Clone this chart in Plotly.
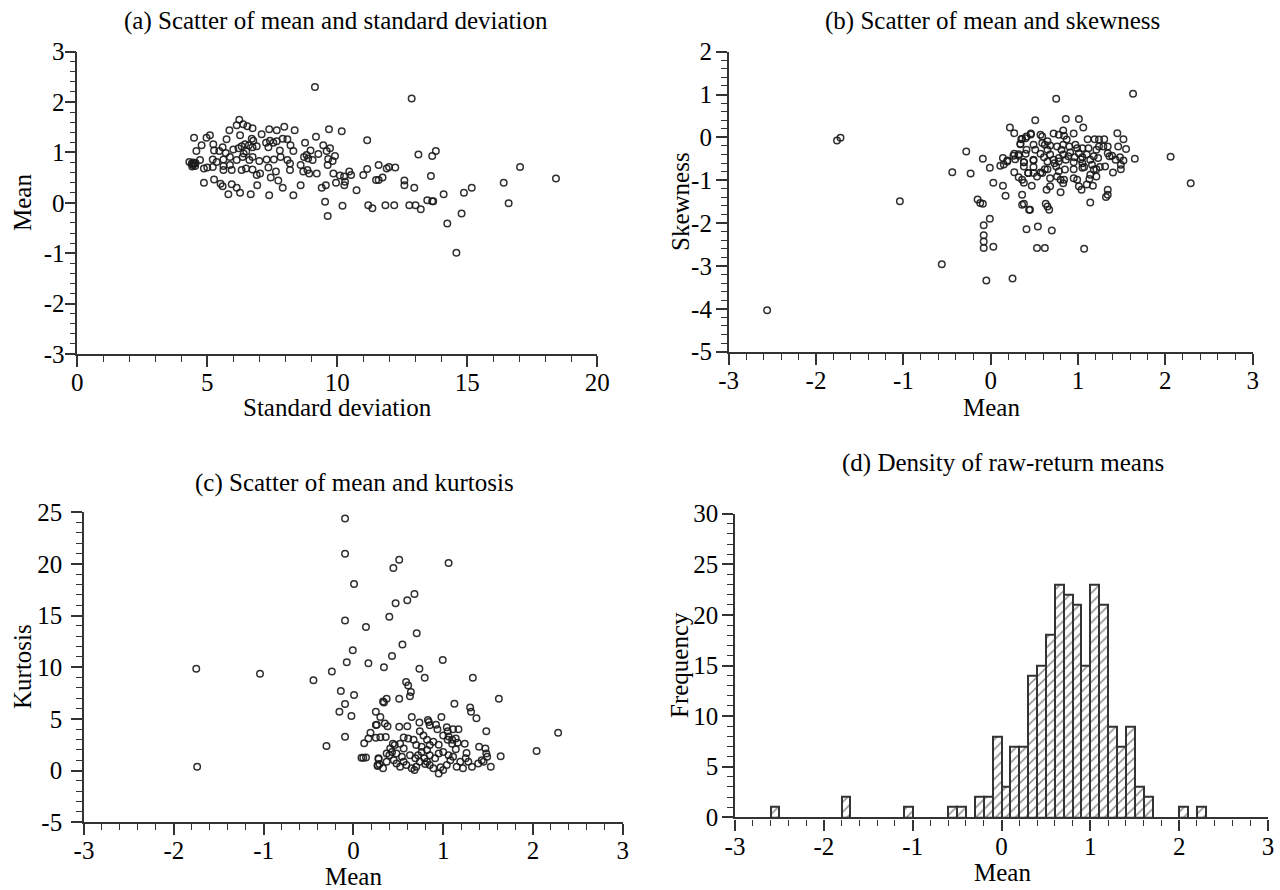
import plotly.graph_objects as go

# ---------------- data ----------------
# Panel (a): standard deviation vs mean
A_SD = [9.14, 6.23, 6.13, 6.38, 6.54, 6.74, 5.85, 7.38, 7.67, 7.96, 8.36, 9.68, 10.17,
        4.49, 4.97, 5.10, 5.74, 7.09, 6.26, 6.71, 6.77, 7.41, 7.90, 8.08, 9.18,
        4.78, 5.23, 5.26, 5.59, 5.46, 5.71, 6.00, 6.32, 6.45, 6.74, 6.90, 7.26, 7.35, 7.54,
        7.67, 7.79, 8.20, 8.31, 8.76, 8.82, 8.97, 9.46, 9.72, 9.59, 9.91, 4.58,
        4.31, 4.44, 4.53, 4.72, 4.87, 5.00, 5.21, 5.21, 5.36, 5.62, 5.62, 5.87, 5.87, 6.13,
        6.36, 6.62, 6.74, 7.00, 7.28, 7.56, 7.82, 8.08, 8.18, 8.59, 8.72, 8.88, 9.05, 9.27,
        9.65, 9.63, 9.82,
        5.62, 5.94, 6.32, 6.49, 6.74, 6.90, 7.03, 7.35, 7.64, 8.18, 8.69, 8.85, 8.92, 9.21,
        9.85, 10.10, 10.26, 10.46, 10.53,
        4.87, 5.26, 5.51, 5.59, 5.94, 6.13, 6.26, 5.81, 6.67, 6.92, 7.38, 7.44, 7.73, 7.90,
        8.31, 8.59, 9.40, 9.56, 9.95, 10.27, 10.30, 10.74, 9.53, 10.20, 9.63,
        4.40, 4.46, 4.50, 4.55, 4.42, 6.20, 6.50, 6.40, 6.60,
        12.86, 11.15, 13.12, 13.65, 13.79, 11.59, 11.90, 11.99, 12.23, 11.15, 11.00, 11.49,
        11.59, 11.74, 12.58, 12.58, 12.96, 13.60, 14.09, 14.87, 15.17, 16.40, 17.03, 18.41,
        16.59, 11.19, 11.35, 11.85, 12.19, 12.77, 13.01, 13.21, 13.46, 13.65, 13.69, 14.23,
        14.78, 14.58]
A_MEAN = [2.30, 1.65, 1.54, 1.56, 1.52, 1.48, 1.44, 1.46, 1.44, 1.51, 1.44, 1.46, 1.42,
          1.29, 1.29, 1.34, 1.26, 1.36, 1.34, 1.27, 1.23, 1.23, 1.27, 1.26, 1.31,
          1.14, 1.16, 1.04, 1.10, 1.03, 0.99, 1.06, 1.12, 1.16, 1.10, 1.12, 1.19, 1.10, 1.19,
          1.22, 1.04, 1.14, 1.03, 1.19, 0.95, 1.04, 1.14, 1.08, 1.03, 0.93, 1.03,
          0.81, 0.75, 0.73, 0.85, 0.68, 0.70, 0.86, 0.71, 0.81, 0.86, 0.73, 0.91, 0.75, 0.85,
          0.91, 0.85, 0.91, 0.83, 0.86, 0.86, 0.91, 0.85, 0.78, 0.75, 0.91, 0.88, 0.85, 0.97,
          0.87, 0.75, 0.83,
          0.65, 0.65, 0.65, 0.68, 0.66, 0.55, 0.58, 0.70, 0.62, 0.65, 0.62, 0.65, 0.58, 0.58,
          0.58, 0.54, 0.52, 0.62, 0.55,
          0.40, 0.46, 0.38, 0.33, 0.37, 0.30, 0.20, 0.17, 0.17, 0.35, 0.15, 0.50, 0.44, 0.30,
          0.15, 0.35, 0.30, 0.35, 0.40, 0.35, 0.42, 0.25, 0.02, -0.06, -0.26,
          0.78, 0.80, 0.77, 0.79, 0.72, 1.08, 1.02, 0.98, 1.14,
          2.07, 1.24, 0.96, 0.93, 1.03, 0.75, 0.68, 0.71, 0.70, 0.67, 0.55, 0.45,
          0.45, 0.50, 0.44, 0.35, 0.30, 0.53, 0.17, 0.20, 0.30, 0.40, 0.71, 0.48,
          -0.01, -0.05, -0.11, -0.05, -0.05, -0.05, -0.05, -0.13, 0.05, 0.03, 0.03, -0.41,
          -0.21, -0.99]

# Panel (b): mean vs skewness
B_MEAN = [-1.76, -1.72, -2.56, -1.04, -0.56, -0.44, -0.28, -0.23, -0.09, -0.15, -0.12, -0.09,
          -0.01, -0.08, -0.08, -0.08, -0.08, 0.03, -0.05, 0.25, -0.01, 0.03, 0.11, 0.15,
          0.19, 0.14, 0.17, 0.27, 0.26, 0.28, 0.32, 0.34, 0.36, 0.27, 0.32, 0.36, 0.38, 0.36,
          0.38, 0.36, 0.44, 0.41, 0.53, 0.47, 0.38, 0.38, 0.43, 0.49, 0.49, 0.51, 0.41, 0.46, 0.54,
          1.63, 0.75, 0.51, 0.86, 1.01, 1.06, 0.22, 0.35, 0.40, 0.46, 0.57, 0.59, 0.65, 0.72,
          0.78, 0.83, 0.84, 0.87, 0.95, 1.11, 1.19, 1.24, 1.30, 1.45, 1.52, 1.55, 1.46, 1.34,
          1.65, 2.06, 2.29,
          0.62, 0.65, 0.68, 0.72, 0.73, 0.75, 0.78, 0.81, 0.83, 0.86, 0.90, 0.91, 0.95, 0.96,
          0.99, 1.01, 1.03, 1.05, 1.07, 1.10, 1.12, 1.14, 1.16, 1.18, 1.14, 1.21, 1.23, 1.25,
          1.24, 1.34, 1.36, 1.40, 1.43, 1.48, 1.49, 1.49, 1.34, 1.34, 1.32, 1.14, 1.01, 1.04,
          1.10, 1.17, 0.95, 0.83, 0.80, 0.65, 0.63, 0.67, 0.64, 0.68, 0.76, 0.84, 0.45, 0.62,
          0.65, 0.59, 0.68, 0.78,
          0.34, 0.41, 0.49, 0.59, 0.68, 0.76, 0.83, 0.97, 1.05, 1.29, 0.14, 0.19, 0.27, 0.32,
          0.40, 0.49, 0.57, 0.61, 0.89, 1.05, 1.18, 1.39, 1.52, 0.38, 0.49, 0.57, 0.65, 0.78,
          0.85, 0.95, 1.05, 1.21, 1.31, 0.43, 0.53, 0.80, 0.99, 1.13, 1.21,
          0.70, 0.62, 1.07]
B_SKEW = [-0.07, -0.01, -4.03, -1.49, -2.96, -0.81, -0.33, -0.84, -0.50, -1.45, -1.53, -1.55,
          -1.90, -2.05, -2.28, -2.43, -2.58, -2.55, -3.34, -3.29, -0.71, -1.06, -0.66, -0.63,
          -0.54, -1.13, -1.36, 0.10, -0.43, -0.51, -0.39, -0.16, -0.03, -0.81, -0.93, -0.99,
          -1.06, -1.34, -1.55, -1.57, -1.69, -2.14, -2.58, -1.13, -0.58, -0.68, -0.83, -0.83,
          -0.54, -0.29, 0.02, 0.07, -2.08,
          1.02, 0.90, 0.40, 0.43, 0.43, 0.23, 0.23, -0.04, -0.02, 0.09, 0.06, 0.02, -0.09, 0.09,
          0.06, 0.16, 0.04, -0.05, 0.09, -0.04, -0.04, -0.05, -0.04, 0.10, -0.04, -0.27, -0.21,
          -0.21, -0.50, -0.45, -1.07,
          -0.17, -0.29, -0.40, -0.52, -0.60, -0.68, -0.48, -0.29, -0.40, -0.52, -0.21, -0.35,
          -0.58, -0.46, -0.25, -0.37, -0.51, -0.60, -0.69, -0.40, -0.25, -0.52, -0.64, -0.75,
          -0.87, -0.29, -0.48, -0.69, -0.21, -0.37, -0.44, -0.82, -0.52, -0.46, -0.64, -0.74,
          -1.22, -1.34, -1.39, -1.52, -1.14, -1.22, -1.10, -1.13, -0.95, -1.07, -1.28, -1.61,
          -1.55, -1.69, -1.22, -1.14, -0.91, -0.99, -1.69, -0.74, -0.56, -0.83, -0.95, -0.56,
          -0.15, -0.29, -0.17, -0.13, -0.19, -0.21, -0.17, -0.17, -0.25, -0.21, -0.48, -0.56,
          -0.38, -0.43, -0.38, -0.52, -0.38, -0.46, -0.44, -0.46, -0.44, -0.43, -0.54, -0.58,
          -0.69, -0.82, -0.74, -0.79, -0.75, -0.74, -0.71, -0.74, -0.68, -0.83, -0.91, -0.99,
          -0.99, -0.97, -0.91,
          -2.17, -2.58, -2.60]

# Panel (c): mean vs kurtosis
C_MEAN = [-1.75, -1.04, -1.74, -0.445, -0.30, -0.24, -0.093, -0.093, 0.007, -0.093, 0.14,
          -0.007, -0.074, 0.167, -0.14, 0.007, -0.093, -0.156, -0.022, -0.093, 0.12, 0.167,
          0.19, 0.25, 0.25, 0.25, 0.09, 0.11, 0.14, 0.27, 0.28,
          0.51, 0.445, 1.06, 0.68, 0.60, 0.47, 0.40, 0.705, 0.546, 0.43, 0.34, 0.995, 0.735,
          0.794, 1.33, 0.587, 0.61, 0.64, 0.63, 0.33, 0.34, 0.37, 0.51, 1.125, 1.62, 1.30, 1.31,
          1.37, 1.48, 2.28, 2.04, 1.64, 1.53,
          0.30, 0.26, 0.35, 0.38, 0.51, 0.60, 0.65, 0.735, 0.83, 0.84, 0.85, 0.92, 0.98, 0.935,
          1.04, 1.05, 1.11, 1.17, 1.00, 1.06, 1.10, 1.14, 0.30, 0.36, 0.44, 0.46, 0.52, 0.56,
          0.61, 0.67, 0.74, 0.78, 0.82, 0.89, 0.95, 0.85, 1.05, 1.10, 1.16, 1.14, 1.24, 1.40,
          1.47, 1.48, 1.49, 1.43, 1.45, 1.39, 1.26, 1.25, 1.28, 1.32, 1.22, 0.28, 0.29, 0.27,
          0.33, 0.37, 0.40, 0.43, 0.48, 0.54, 0.56, 0.59, 0.65, 0.68, 0.70, 0.72, 0.76, 0.79,
          0.82, 0.85, 0.89, 0.95, 0.97, 1.00, 1.04, 1.08, 1.11, 1.15, 1.19, 0.63, 0.69, 0.74,
          0.80, 0.48, 0.52, 0.45, 0.82, 0.85, 0.91, 0.95, 1.00, 1.06, 0.70, 0.76, 0.56, 0.41,
          0.37]
C_KURT = [9.86, 9.38, 0.38, 8.74, 2.38, 9.60, 24.4, 21.0, 18.05, 14.54, 13.9, 11.64, 10.48,
          10.38, 7.70, 7.32, 6.45, 5.70, 5.28, 3.28, 2.64, 3.12, 3.67, 4.41, 5.70, 3.19, 1.25,
          1.25, 1.28, 0.54, 1.12,
          20.4, 19.6, 20.1, 17.1, 16.5, 16.2, 14.9, 13.3, 12.2, 11.1, 10.0, 10.7, 9.86, 8.98,
          8.98, 8.57, 8.24, 7.6, 7.2, 6.7, 6.6, 6.96, 6.96, 6.48, 6.96, 6.12, 5.7, 5.06, 3.8,
          3.67, 1.9, 1.38, 0.38,
          5.2, 4.44, 4.57, 4.3, 4.25, 4.3, 5.2, 4.67, 4.9, 4.7, 4.4, 4.44, 5.2, 4.0, 4.2, 3.8,
          4.0, 4.0, 3.4, 3.3, 3.0, 3.1, 3.22, 3.25, 2.6, 2.48, 2.6, 3.2, 3.1, 3.0, 3.8, 3.4,
          3.0, 2.8, 2.5, 2.48, 3.0, 2.6, 2.7, 2.06, 2.6, 2.3, 2.15, 1.67, 1.35, 1.0, 0.86, 0.7,
          1.7, 1.2, 0.86, 0.38, 0.22, 1.2, 0.64, 0.45, 0.22, 0.86, 1.5, 1.8, 1.67, 1.35, 0.86,
          0.54, 0.22, 0.06, 0.38, 1.5, 1.8, 1.2, 0.86, 0.54, 0.22, -0.27, 0.32, 0.06, 0.54,
          1.0, 1.35, 0.38, 0.86, 1.5, 1.2, 0.86, 0.64, 0.7, 0.38, 1.0, 2.0, 1.5, 1.2, 1.67, 1.8,
          1.5, 2.48, 2.3, 2.15, 2.15, 1.67]

# Panel (d): histogram of means (bin centres, counts)
D_BIN_CENTER = [-2.55, -1.75, -1.05, -0.55, -0.45, -0.25, -0.15, -0.05, 0.05, 0.15, 0.25,
                0.35, 0.45, 0.55, 0.65, 0.75, 0.85, 0.95, 1.05, 1.15, 1.25, 1.35, 1.45, 1.55,
                1.65, 2.05, 2.25]
D_COUNT = [1, 2, 1, 1, 1, 2, 2, 8, 3, 7, 7, 14, 15, 18, 23, 22, 21, 15, 23, 21, 9, 7, 9, 3,
           2, 1, 1]

# Tick labels
A_XTICKS = [0, 5, 10, 15, 20]
A_YTICKS = [-3, -2, -1, 0, 1, 2, 3]
B_XTICKS = [-3, -2, -1, 0, 1, 2, 3]
B_YTICKS = [-5, -4, -3, -2, -1, 0, 1, 2]
C_XTICKS = [-3, -2, -1, 0, 1, 2, 3]
C_YTICKS = [-5, 0, 5, 10, 15, 20, 25]
D_XTICKS = [-3, -2, -1, 0, 1, 2, 3]
D_YTICKS = [0, 5, 10, 15, 20, 25, 30]

TITLES = ["(a) Scatter of mean and standard deviation", "(b) Scatter of mean and skewness",
          "(c) Scatter of mean and kurtosis", "(d) Density of raw-return means"]

# ---------------- figure ----------------
W, H = 1280, 890
FONT = "Liberation Serif"
FS = 25
AXC = "#333333"


def lab(v):
    return [str(t) for t in v]


def px_x(x):
    return x / W


def px_y(y):
    return 1 - y / H


def axis(dom, rng, ticks, minor_dt, anchor, standoff):
    return dict(domain=dom, range=rng, anchor=anchor, automargin=False, tickmode="array",
                tickvals=ticks, ticktext=lab(ticks), showline=True, linecolor=AXC,
                linewidth=1.6, ticks="outside", ticklen=11, tickwidth=1.5, tickcolor=AXC,
                showgrid=False, zeroline=False, ticklabelstandoff=standoff,
                ticklabeloverflow="allow",
                tickfont=dict(family=FONT, size=FS, color="black"),
                minor=dict(tickmode="linear", tick0=ticks[0], dtick=minor_dt,
                           ticks="outside", ticklen=6, tickwidth=1.3, tickcolor=AXC,
                           showgrid=False))


mk = dict(symbol="circle-open", size=6.5, color="rgba(25,25,25,0.9)", line=dict(width=1.5))

fig = go.Figure()
fig.add_trace(go.Scatter(x=A_SD, y=A_MEAN, mode="markers", marker=mk, xaxis="x", yaxis="y",
                         showlegend=False))
fig.add_trace(go.Scatter(x=B_MEAN, y=B_SKEW, mode="markers", marker=mk, xaxis="x2", yaxis="y2",
                         showlegend=False))
fig.add_trace(go.Scatter(x=C_MEAN, y=C_KURT, mode="markers", marker=mk, xaxis="x3", yaxis="y3",
                         showlegend=False))
fig.add_trace(go.Bar(x=D_BIN_CENTER, y=D_COUNT, width=0.1, xaxis="x4", yaxis="y4",
                     showlegend=False,
                     marker=dict(color="white", line=dict(color="#333333", width=2),
                                 pattern=dict(shape="/", fgcolor="#111111", bgcolor="white",
                                              size=7, solidity=0.22))))

dom_a = ([px_x(77.3), px_x(597.3)], [px_y(354), px_y(51.6)])
dom_b = ([px_x(728.7), px_x(1252.7)], [px_y(351.7), px_y(51.7)])
dom_c = ([px_x(84), px_x(622.8)], [px_y(822.3), px_y(512.3)])
dom_d = ([px_x(735), px_x(1268)], [px_y(817.3), px_y(513.7)])

XS = -6
fig.update_layout(
    width=W, height=H, margin=dict(l=0, r=0, t=0, b=0, autoexpand=False),
    paper_bgcolor="white", plot_bgcolor="white", bargap=0,
    font=dict(family=FONT, size=FS, color="black"),
    xaxis=axis(dom_a[0], [0, 20], A_XTICKS, 1, "y", XS),
    yaxis=axis(dom_a[1], [-3, 3], A_YTICKS, 0.2, "x", -5),
    xaxis2=axis(dom_b[0], [-3, 3], B_XTICKS, 0.2, "y2", XS),
    yaxis2=axis(dom_b[1], [-5, 2], B_YTICKS, 0.2, "x2", -1),
    xaxis3=axis(dom_c[0], [-3, 3], C_XTICKS, 0.2, "y3", XS),
    yaxis3=axis(dom_c[1], [-5, 25], C_YTICKS, 1, "x3", 4),
    xaxis4=axis(dom_d[0], [-3, 3], D_XTICKS, 0.2, "y4", XS),
    yaxis4=axis(dom_d[1], [0, 30], D_YTICKS, 1, "x4", -1),
)
fig.layout.xaxis4.linewidth = 2.4

ann = []
# panel titles
for t, (x, y) in zip(TITLES, [(336, 21), (992, 21), (354, 483), (1003, 463)]):
    ann.append(dict(text=t, x=px_x(x), y=px_y(y), xref="paper", yref="paper",
                    showarrow=False, xanchor="center", yanchor="middle", borderpad=0,
                    font=dict(family=FONT, size=FS, color="black")))
# axis titles
for t, x, y, ang in [("Standard deviation", 337, 408, 0), ("Mean", 22, 203, -90),
                     ("Mean", 991, 407, 0), ("Skewness", 681, 202, -90),
                     ("Mean", 353, 876, 0), ("Kurtosis", 22, 667, -90),
                     ("Mean", 1002, 872, 0), ("Frequency", 679, 665, -90)]:
    ann.append(dict(text=t, x=px_x(x), y=px_y(y), xref="paper", yref="paper",
                    showarrow=False, xanchor="center", yanchor="middle", textangle=ang,
                    borderpad=0, font=dict(family=FONT, size=FS, color="black")))
fig.update_layout(annotations=ann)

# the page's default 8 px body margin would push the 1280x890 figure out of the window
fig.write_html("out.html", config={"displayModeBar": False},
               post_script="document.body.style.margin='0';")
